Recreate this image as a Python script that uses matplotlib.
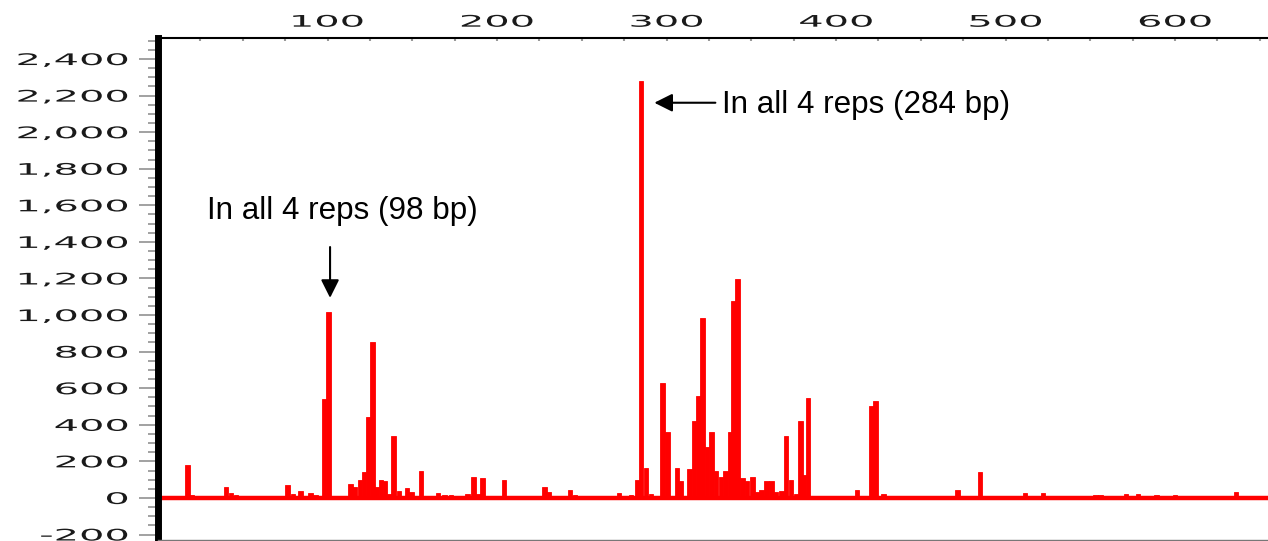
import matplotlib
matplotlib.use("Agg")
import matplotlib.pyplot as plt
from matplotlib.patheffects import AbstractPathEffect
from matplotlib.transforms import Affine2D
from matplotlib.ticker import MultipleLocator

# fragment size (bp) and peak height
fragBp = [5, 9, 17.4, 20, 24, 40, 43, 46, 58, 62, 76.5, 79.5, 84, 90, 93,
          98, 100.6, 113.5, 116, 119, 121.5, 124, 126.6, 129, 131.5, 134,
          136.5, 139, 142, 147, 149.5, 155, 158, 165, 169, 173, 182.5, 186,
          189, 191.5, 199, 204, 212, 220, 228, 230.5, 236, 243, 246, 256,
          264, 272, 279, 282.5, 285, 288, 291, 294, 297.5, 300.5, 303, 306,
          308.5, 311, 313.5, 316.3, 318.8, 321.3, 323.8, 326.4, 329.2, 332,
          334.8, 337.3, 339.6, 341.9, 344.7, 347.6, 350.6, 353.5, 356, 359,
          362, 364.7, 367.7, 370.6, 373.5, 376.5, 379, 381.2, 383.6, 387,
          391, 400, 412.5, 420.8, 423.2, 428, 440, 450, 459, 467, 471.7, 477,
          485, 493, 505, 511.6, 522, 530, 553, 556, 571, 578, 589, 600, 607,
          615, 636, 644, 652]
fragHeight = [12, 10, 180, 15, 12, 60, 25, 15, 10, 12, 70, 20, 40, 25, 18,
              540, 1015, 75, 60, 100, 140, 445, 855, 60, 100, 90,
              20, 340, 40, 52, 30, 145, 10, 25, 18, 18, 20, 116,
              20, 110, 10, 98, 10, 8, 62, 30, 10, 45, 15, 8,
              10, 29, 15, 98, 2280, 162, 20, 10, 626, 362, 10, 164,
              95, 10, 160, 419, 556, 984, 276, 362, 149, 117,
              150, 360, 1075, 1195, 107, 90, 113, 30, 44, 90,
              90, 30, 40, 338, 100, 20, 419, 125, 549, 10,
              10, 8, 44, 504, 529, 20, 6, 6, 10, 10, 45, 10,
              143, 8, 8, 25, 25, 8, 15, 15, 20, 20, 15, 15, 8,
              8, 35, 8, 8]

yTicks = list(range(-200, 2401, 200))
xTicks = [100, 200, 300, 400, 500, 600]

notes = ["In all 4 reps (98 bp)", "In all 4 reps (284 bp)"]


class WideText(AbstractPathEffect):
    # the original software used a very wide bitmap font, fake it
    def __init__(self, sx, anchor):
        super().__init__()
        self.sx = sx
        self.anchor = anchor

    def draw_path(self, renderer, gc, tpath, affine, rgbFace=None):
        bb = tpath.get_extents(affine)
        x0 = bb.x1 if self.anchor == "right" else (bb.x0 + bb.x1) / 2
        affine = affine + Affine2D().translate(-x0, 0).scale(self.sx, 1).translate(x0, 0)
        renderer.draw_path(gc, tpath, affine, rgbFace)


fig = plt.figure(figsize=(12.68, 5.41), dpi=100)
ax = fig.add_axes([158 / 1268, 1 / 541, 1110 / 1268, 502 / 541])

ax.axhline(0, color="#ff0000", lw=3.2, zorder=2)
ax.bar(fragBp, fragHeight, width=2.6, color="#ff0000", edgecolor="#ff0000",
       linewidth=0.6, zorder=3)

ax.set_xlim(0, 654.8)
ax.set_ylim(-230, 2515)

ax.spines["right"].set_visible(False)
ax.spines["left"].set_linewidth(5)
ax.spines["left"].set_color("black")
ax.spines["top"].set_linewidth(1.5)
ax.spines["bottom"].set_linewidth(1)
ax.spines["bottom"].set_color("#777777")

ax.set_yticks(yTicks)
ax.set_yticklabels([f"{v:,}" for v in yTicks])
ax.yaxis.set_minor_locator(MultipleLocator(50))
ax.tick_params(axis="y", which="major", direction="out", length=13.5, width=1.1,
               color="#888888", pad=8, labelsize=11.5, labelcolor="#1a1a1a")
ax.tick_params(axis="y", which="minor", direction="out", length=7, width=1.1,
               color="#888888")

ax.xaxis.tick_top()
ax.set_xticks(xTicks)
ax.set_xticklabels([str(v) for v in xTicks])
ax.xaxis.set_minor_locator(MultipleLocator(25))
ax.tick_params(axis="x", which="both", direction="in", length=2.5, width=1.5,
               color="#999999", top=True, bottom=False, labeltop=True,
               labelbottom=False, pad=6, labelsize=11.5, labelcolor="#1a1a1a")

for lab in ax.get_yticklabels():
    lab.set_path_effects([WideText(2.5, "right")])
for lab in ax.get_xticklabels():
    lab.set_path_effects([WideText(2.5, "center")])

noteFont = dict(family="Liberation Sans", fontsize=22.6, color="black", va="baseline")
ax.text(29.2, 1525, notes[0], ha="left", **noteFont)
ax.text(333, 2105, notes[1], ha="left", **noteFont)

arrowStyle = dict(arrowstyle="-|>,head_length=1.0,head_width=0.5", mutation_scale=11,
                  color="black", lw=1.5, shrinkA=0, shrinkB=0)
ax.annotate("", xy=(101.5, 1094), xytext=(101.5, 1372), arrowprops=arrowStyle)
ax.annotate("", xy=(292.8, 2161), xytext=(328.8, 2161), arrowprops=arrowStyle)

fig.savefig("out.png", dpi=100)
